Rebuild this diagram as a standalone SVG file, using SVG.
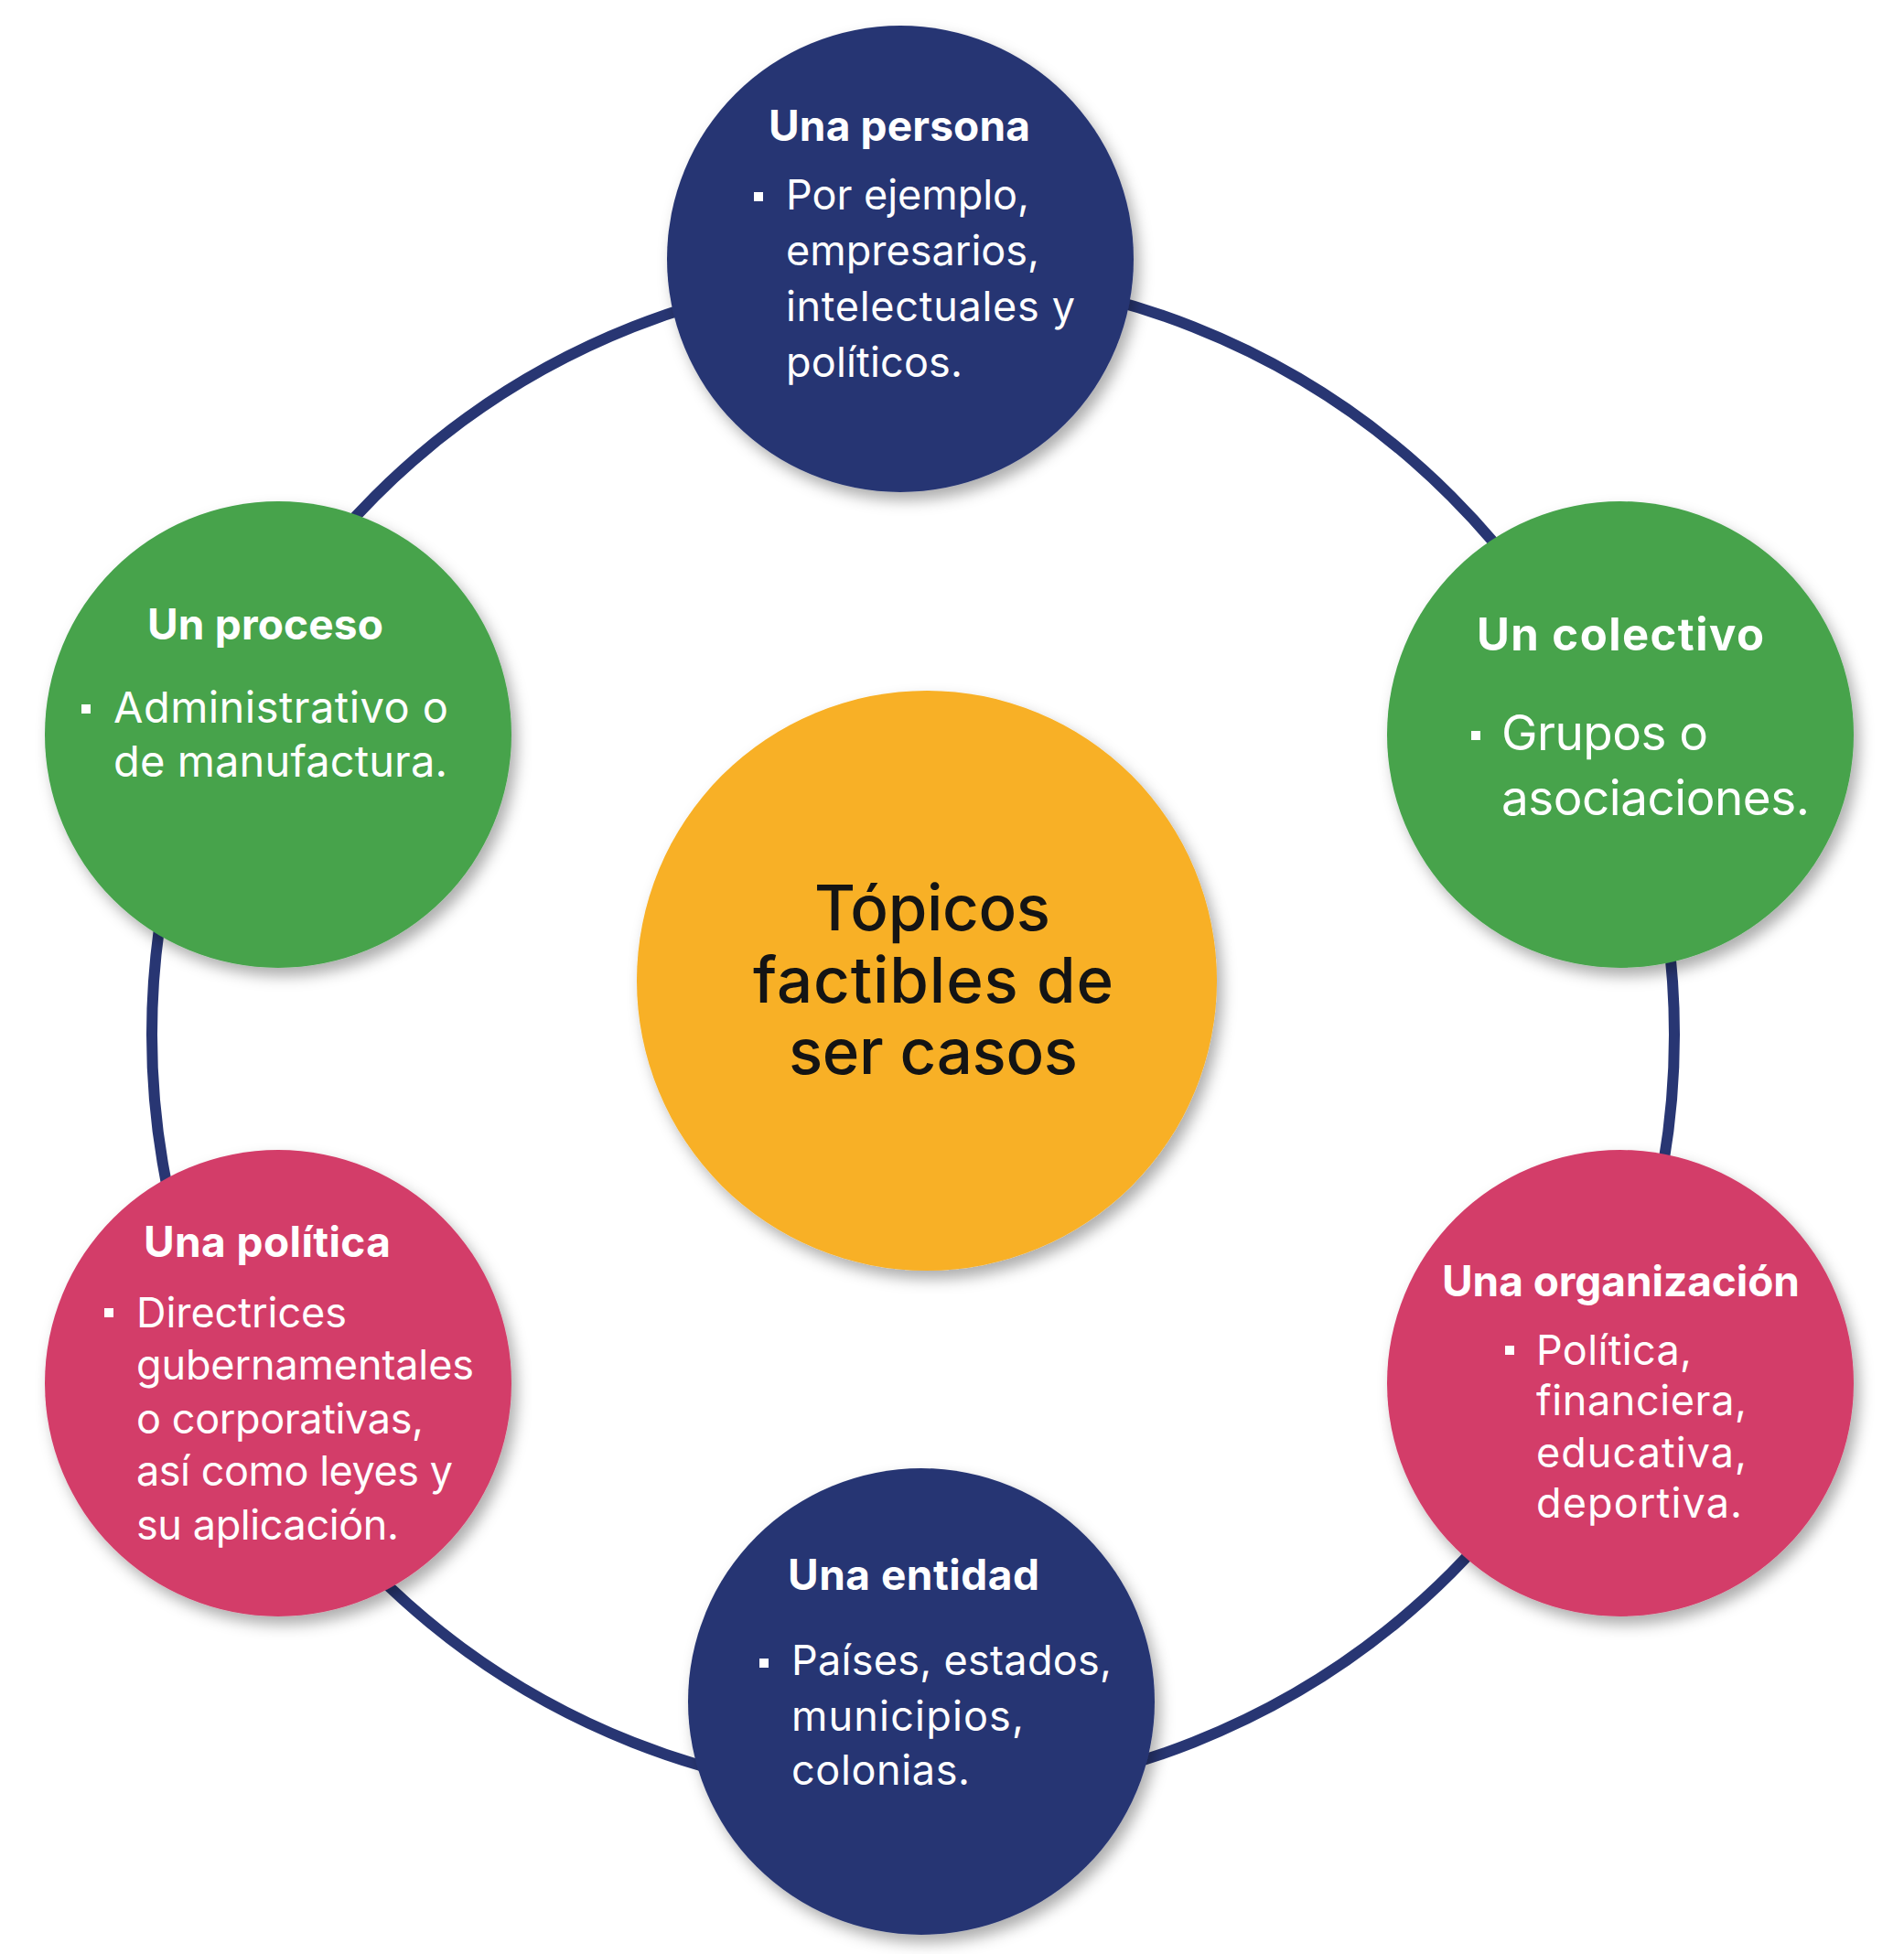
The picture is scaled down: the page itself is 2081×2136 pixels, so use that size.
<svg xmlns="http://www.w3.org/2000/svg" width="2081" height="2136" viewBox="0 0 2081 2136">
  <defs>
    <filter id="shadow" x="-20%" y="-20%" width="145%" height="145%">
      <feDropShadow dx="6" dy="9" stdDeviation="8" flood-color="#000000" flood-opacity="0.32"/>
    </filter>
  </defs>
  <style>
    .navy { fill: #283673; }
    .green { fill: #46a34c; }
    .pink { fill: #d33e69; }
    .orange { fill: #f8b026; }
    .node { filter: url(#shadow); }
    .ring { fill: none; stroke: #283673; stroke-width: 12; }
    .title { font-family: Inter, "DejaVu Sans", sans-serif; font-weight: 700; font-size: 46px; fill: #ffffff; }
    .titleL { font-family: Inter, "DejaVu Sans", sans-serif; font-weight: 700; font-size: 49px; fill: #ffffff; }
    .body { font-family: Inter, "DejaVu Sans", sans-serif; font-weight: 400; font-size: 45px; fill: #ffffff; }
    .bodyM { font-family: Inter, "DejaVu Sans", sans-serif; font-weight: 400; font-size: 47px; fill: #ffffff; }
    .bodyL { font-family: Inter, "DejaVu Sans", sans-serif; font-weight: 400; font-size: 53px; fill: #ffffff; }
    .center { font-family: Inter, "DejaVu Sans", sans-serif; font-weight: 500; font-size: 69px; fill: #141414; }
    .bullet { fill: #ffffff; }
  </style>
  <rect width="2081" height="2136" fill="#ffffff"/>

  <g id="connectors">
    <circle class="ring" cx="998" cy="1131" r="832"/>
  </g>

  <g id="center-node">
    <circle class="orange node" cx="1013" cy="1072" r="317"/>
    <text class="center" x="890" y="1017" textLength="258" lengthAdjust="spacing">Tópicos</text>
    <text class="center" x="823" y="1096" textLength="394" lengthAdjust="spacing">factibles de</text>
    <text class="center" x="862" y="1174" textLength="316" lengthAdjust="spacing">ser casos</text>
  </g>

  <g id="node-persona">
    <circle class="navy node" cx="984" cy="283" r="255"/>
    <text class="title" x="840" y="154" textLength="286" lengthAdjust="spacing">Una persona</text>
    <rect class="bullet" x="824" y="210" width="10" height="10"/>
    <text class="body" x="859" y="229" textLength="266" lengthAdjust="spacing">Por ejemplo,</text>
    <text class="body" x="859" y="290" textLength="277" lengthAdjust="spacing">empresarios,</text>
    <text class="body" x="859" y="351" textLength="316" lengthAdjust="spacing">intelectuales y</text>
    <text class="body" x="859" y="412" textLength="193" lengthAdjust="spacing">políticos.</text>
  </g>

  <g id="node-proceso">
    <circle class="green node" cx="304" cy="803" r="255"/>
    <text class="title" x="161" y="699" textLength="258" lengthAdjust="spacing">Un proceso</text>
    <rect class="bullet" x="89" y="770" width="10" height="10"/>
    <text class="bodyM" x="124" y="790" textLength="366" lengthAdjust="spacing">Administrativo o</text>
    <text class="bodyM" x="124" y="849" textLength="365" lengthAdjust="spacing">de manufactura.</text>
  </g>

  <g id="node-colectivo">
    <circle class="green node" cx="1771" cy="803" r="255"/>
    <text class="titleL" x="1614" y="711" textLength="314" lengthAdjust="spacing">Un colectivo</text>
    <rect class="bullet" x="1608" y="799" width="10" height="10"/>
    <text class="bodyL" x="1641" y="820" textLength="226" lengthAdjust="spacing">Grupos o</text>
    <text class="bodyL" x="1641" y="891" textLength="337" lengthAdjust="spacing">asociaciones.</text>
  </g>

  <g id="node-politica">
    <circle class="pink node" cx="304" cy="1512" r="255"/>
    <text class="title" x="157" y="1374" textLength="270" lengthAdjust="spacing">Una política</text>
    <rect class="bullet" x="114" y="1430" width="10" height="10"/>
    <text class="body" x="149" y="1451" textLength="230" lengthAdjust="spacing">Directrices</text>
    <text class="body" x="149" y="1508" textLength="369" lengthAdjust="spacing">gubernamentales</text>
    <text class="body" x="149" y="1567" textLength="314" lengthAdjust="spacing">o corporativas,</text>
    <text class="body" x="149" y="1624" textLength="346" lengthAdjust="spacing">así como leyes y</text>
    <text class="body" x="149" y="1683" textLength="287" lengthAdjust="spacing">su aplicación.</text>
  </g>

  <g id="node-organizacion">
    <circle class="pink node" cx="1771" cy="1512" r="255"/>
    <text class="title" x="1576" y="1417" textLength="391" lengthAdjust="spacing">Una organización</text>
    <rect class="bullet" x="1645" y="1471" width="10" height="10"/>
    <text class="body" x="1679" y="1492" textLength="170" lengthAdjust="spacing">Política,</text>
    <text class="body" x="1679" y="1547" textLength="230" lengthAdjust="spacing">financiera,</text>
    <text class="body" x="1679" y="1604" textLength="230" lengthAdjust="spacing">educativa,</text>
    <text class="body" x="1679" y="1659" textLength="225" lengthAdjust="spacing">deportiva.</text>
  </g>

  <g id="node-entidad">
    <circle class="navy node" cx="1007" cy="1860" r="255"/>
    <text class="title" x="861" y="1738" textLength="275" lengthAdjust="spacing">Una entidad</text>
    <rect class="bullet" x="830" y="1813" width="10" height="10"/>
    <text class="body" x="865" y="1831" textLength="350" lengthAdjust="spacing">Países, estados,</text>
    <text class="body" x="865" y="1892" textLength="254" lengthAdjust="spacing">municipios,</text>
    <text class="body" x="865" y="1951" textLength="195" lengthAdjust="spacing">colonias.</text>
  </g>
</svg>
